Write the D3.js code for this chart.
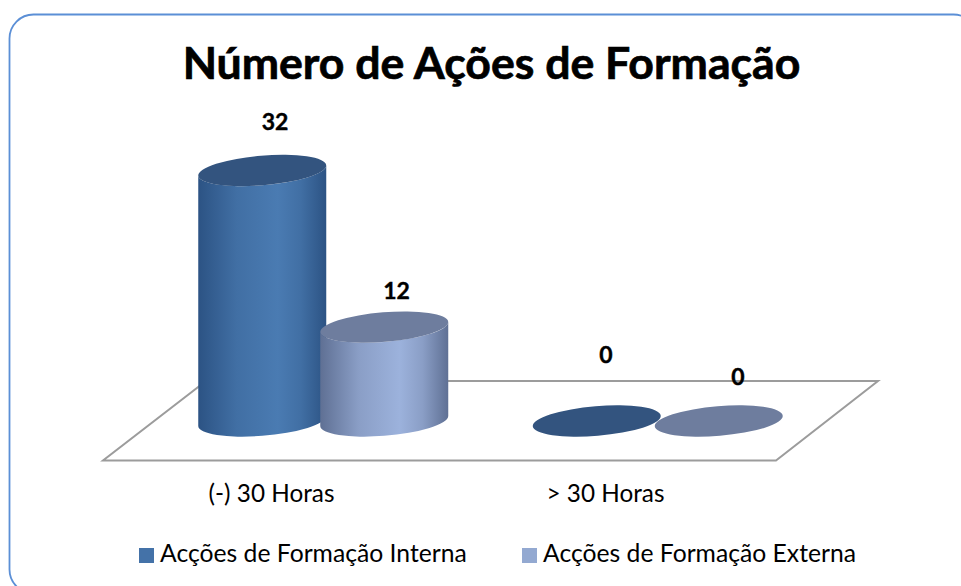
<!DOCTYPE html>
<html><head><meta charset="utf-8">
<script src="https://cdnjs.cloudflare.com/ajax/libs/d3/7.8.5/d3.min.js"></script>
<style>html,body{margin:0;padding:0;background:#fff;overflow:hidden}svg{display:block}text{font-family:Lato,"Noto Sans",sans-serif;fill:#000}</style>
</head><body><script>
const chartTitle = "Número de Ações de Formação";
const categories = ["(-) 30 Horas", "> 30 Horas"];
const seriesNames = ["Acções de Formação Interna", "Acções de Formação Externa"];
const interna = [32, 0];
const externa = [12, 0];
const W = 961, H = 586;
const seriesValues = [interna, externa];
const palette = [
  {edge:"#2c5384", mid:"#4a7bb2", top:"#33547f", swatch:"#4472a8"},
  {edge:"#5f7094", mid:"#9cb2dc", top:"#6e7d9e", swatch:"#93a9d1"}
];
const svg = d3.select("body").append("svg").attr("width",W).attr("height",H);
const defs = svg.append("defs");
palette.forEach((p,i)=>{
  const g = defs.append("linearGradient").attr("id","cyl"+i).attr("x1",0).attr("x2",1).attr("y1",0).attr("y2",0);
  [[0,p.edge],[.3,d3.interpolateRgb(p.edge,p.mid)(.7)],[.62,p.mid],[.8,d3.interpolateRgb(p.edge,p.mid)(.7)],[1,p.edge]]
    .forEach(([o,c])=>g.append("stop").attr("offset",o).attr("stop-color",c));
});
svg.append("rect").attr("x",9.5).attr("y",14.5).attr("width",968).attr("height",579).attr("rx",24)
  .attr("fill","#fff").attr("stroke","#5b8fd6").attr("stroke-width",1.8);
svg.append("text").attr("x",491.5).attr("y",79).attr("text-anchor","middle")
  .attr("font-size",44.6).attr("font-weight",700).attr("stroke","#000").attr("stroke-width",0.7).text(chartTitle);

const x0 = d3.scaleBand().domain(categories).range([156,825]);
const x1 = d3.scaleBand().domain(seriesNames).range([x0.bandwidth()/2-122,x0.bandwidth()/2+122]);
const y = d3.scaleLinear().domain([0,32]).range([421,170.5]);
const a=64.2,b=14.8,rot=-4.72,hw=64,dy=5;

svg.append("polygon").attr("points",[[103,460.5],[776,460.5],[878,381],[206,381]].map(d=>d.join(",")).join(" "))
  .attr("fill","none").attr("stroke","#9c9c9c").attr("stroke-width",2);

categories.forEach((c,ci)=>{
  seriesNames.forEach((s,si)=>{
    const v = seriesValues[si][ci];
    const cx = x0(c)+x1(s)+x1.bandwidth()/2, yb=y(0), yt=y(v);
    const g = svg.append("g");
    if(v>0){
      g.append("path").attr("fill",`url(#cyl${si})`).attr("d",
        `M${cx-hw},${yt+dy}L${cx-hw},${yb+dy}A${a},${b},${rot},0,0,${cx+hw},${yb-dy}L${cx+hw},${yt-dy}A${a},${b},${rot},0,1,${cx-hw},${yt+dy}Z`);
    }
    g.append("ellipse").attr("cx",0).attr("cy",0).attr("rx",a).attr("ry",b)
      .attr("transform",`translate(${cx},${yt}) rotate(${rot})`).attr("fill",palette[si].top);
  });
});
const labelPos = [[275,130],[396.5,299],[606,363],[738,385]];
[interna[0],externa[0],interna[1],externa[1]].forEach((v,i)=>{
  svg.append("text").attr("x",labelPos[i][0]).attr("y",labelPos[i][1]).attr("text-anchor","middle")
    .attr("font-size",23).attr("font-weight",700).attr("stroke","#000").attr("stroke-width",0.4).text(v);
});
const xLab = d3.scalePoint().domain(categories).range([271,605]);
svg.append("g").attr("transform","translate(0,502)")
  .call(d3.axisBottom(xLab).tickSize(0).tickPadding(0))
  .call(g=>g.select(".domain").remove())
  .selectAll("text").attr("font-size",24.3).attr("dy",0).attr("y",0)
  .style("font-family","Lato");
const legendX=[139,522];
seriesNames.forEach((s,i)=>{
  svg.append("rect").attr("x",legendX[i]).attr("y",548).attr("width",15).attr("height",15).attr("fill",palette[i].swatch);
  svg.append("text").attr("x",legendX[i]+21).attr("y",562).attr("font-size",24.7).text(s);
});
</script></body></html>
